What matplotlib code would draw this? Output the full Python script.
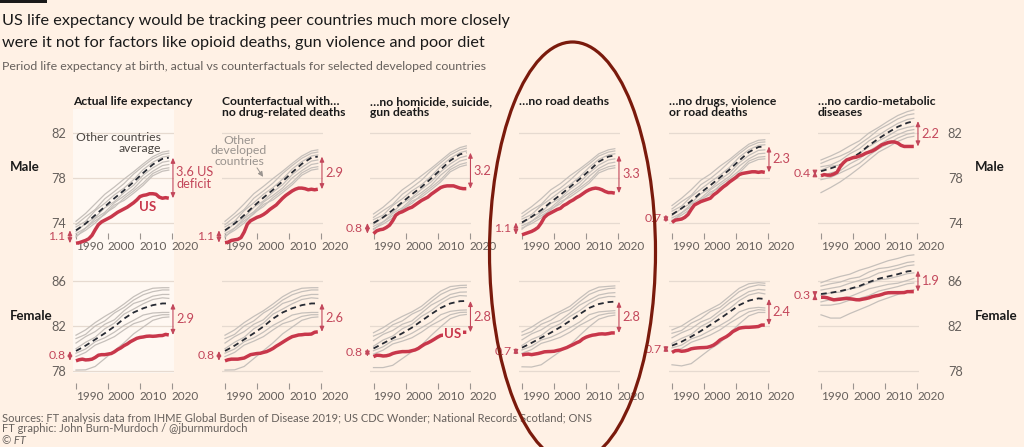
import matplotlib
matplotlib.use("Agg")
import matplotlib.pyplot as plt
from matplotlib.patches import Ellipse, Rectangle

plt.rcParams['font.family'] = ['Lato', 'DejaVu Sans']

# ---------------- data ----------------
years = list(range(1990, 2020))
avg_years = [1990, 1993, 1996, 1999, 2002, 2005, 2008, 2011, 2014, 2017, 2019]
tick_years = [1990, 2000, 2010, 2020]
tick_labels = ["1990", "2000", "2010", "2020"]

panel_titles = [
    "Actual life expectancy",
    "Counterfactual with…\nno drug-related deaths",
    "…no homicide, suicide,\ngun deaths",
    "…no road deaths",
    "…no drugs, violence\nor road deaths",
    "…no cardio-metabolic\ndiseases",
]

male_yticks = [74, 78, 82]
female_yticks = [78, 82, 86]

# US life expectancy, male (one list per panel)
us_male = [
    [72.2, 72.25, 72.35, 72.45, 72.6, 72.9, 73.4, 73.85, 74.1, 74.25, 74.4, 74.55, 74.75, 74.95, 75.1,
     75.25, 75.4, 75.6, 75.8, 76.05, 76.35, 76.45, 76.5, 76.6, 76.6, 76.55, 76.3, 76.2, 76.25, 76.2],
    [72.25, 72.3, 72.45, 72.5, 72.55, 72.7, 73.2, 73.9, 74.2, 74.35, 74.5, 74.6, 74.75, 74.95, 75.2,
     75.4, 75.6, 75.9, 76.2, 76.45, 76.65, 76.85, 77.0, 77.1, 77.1, 77.05, 76.95, 77.0, 76.95, 77.0],
    [73.05, 73.3, 73.4, 73.45, 73.6, 73.8, 74.2, 74.7, 74.9, 75.0, 75.15, 75.3, 75.4, 75.6, 75.8,
     76.0, 76.15, 76.3, 76.55, 76.75, 76.95, 77.15, 77.25, 77.3, 77.3, 77.3, 77.2, 77.1, 77.05, 77.05],
    [72.95, 73.05, 73.15, 73.25, 73.4, 73.6, 74.0, 74.5, 74.75, 74.9, 75.05, 75.2, 75.3, 75.55, 75.7,
     75.9, 76.05, 76.25, 76.4, 76.6, 76.8, 76.95, 77.05, 77.1, 77.05, 76.95, 76.8, 76.7, 76.7, 76.65],
    [74.05, 74.25, 74.3, 74.35, 74.5, 74.75, 75.2, 75.6, 75.75, 75.9, 76.0, 76.1, 76.2, 76.5, 76.7,
     76.95, 77.2, 77.4, 77.65, 77.85, 78.05, 78.3, 78.4, 78.45, 78.5, 78.55, 78.55, 78.5, 78.55, 78.5],
    [78.2, 78.3, 78.25, 78.25, 78.35, 78.5, 79.0, 79.35, 79.6, 79.7, 79.8, 79.85, 79.95, 80.05, 80.2,
     80.3, 80.4, 80.55, 80.75, 80.95, 81.05, 81.15, 81.2, 81.2, 81.1, 80.9, 80.8, 80.8, 80.8, 80.8],
]

# US life expectancy, female
us_female = [
    [78.9, 79.0, 79.05, 78.98, 79.0, 79.05, 79.2, 79.4, 79.45, 79.45, 79.5, 79.55, 79.7, 79.9, 80.05,
     80.25, 80.4, 80.6, 80.75, 80.9, 80.98, 81.02, 81.08, 81.1, 81.08, 81.1, 81.14, 81.15, 81.25, 81.2],
    [78.9, 79.0, 79.05, 79.05, 79.05, 79.1, 79.15, 79.3, 79.45, 79.5, 79.55, 79.57, 79.65, 79.72, 79.85,
     80.0, 80.2, 80.37, 80.55, 80.73, 80.9, 81.05, 81.12, 81.2, 81.22, 81.26, 81.26, 81.28, 81.44, 81.48],
    [79.27, 79.4, 79.38, 79.33, 79.35, 79.42, 79.55, 79.63, 79.68, 79.72, 79.72, 79.73, 79.8, 79.87, 80.0,
     80.2, 80.38, 80.5, 80.65, 80.82, 81.0, 81.15, 81.2, 81.25, 81.3, 81.33, 81.36, 81.42, 81.44, 81.44],
    [79.42, 79.48, 79.5, 79.45, 79.5, 79.55, 79.62, 79.7, 79.72, 79.73, 79.75, 79.82, 79.88, 79.98, 80.08,
     80.22, 80.35, 80.5, 80.62, 80.85, 81.0, 81.1, 81.18, 81.22, 81.28, 81.3, 81.28, 81.32, 81.38, 81.38],
    [79.65, 79.8, 79.82, 79.75, 79.78, 79.85, 79.97, 80.02, 80.05, 80.07, 80.08, 80.1, 80.18, 80.3, 80.5,
     80.75, 80.9, 81.05, 81.25, 81.5, 81.65, 81.8, 81.85, 81.88, 81.88, 81.9, 81.92, 81.95, 82.08, 82.08],
    [84.55, 84.55, 84.5, 84.4, 84.32, 84.35, 84.38, 84.42, 84.45, 84.42, 84.38, 84.33, 84.32, 84.38, 84.43,
     84.5, 84.6, 84.67, 84.72, 84.8, 84.9, 84.95, 84.96, 84.96, 84.96, 84.96, 84.97, 85.05, 85.05, 85.05],
]

# Other countries average (dashed), at avg_years
avg_male = [
    [73.35, 73.95, 74.7, 75.45, 76.2, 76.9, 77.65, 78.45, 79.2, 79.7, 79.8],
    [73.35, 73.95, 74.7, 75.5, 76.25, 76.95, 77.7, 78.5, 79.25, 79.8, 79.9],
    [74.0, 74.5, 75.15, 75.85, 76.55, 77.2, 77.95, 78.75, 79.55, 80.1, 80.25],
    [74.05, 74.55, 75.15, 75.85, 76.5, 77.2, 77.9, 78.65, 79.45, 79.9, 80.0],
    [74.75, 75.3, 75.95, 76.7, 77.35, 78.05, 78.75, 79.55, 80.3, 80.75, 80.8],
    [78.6, 78.85, 79.15, 79.65, 80.2, 80.9, 81.5, 82.05, 82.55, 82.9, 83.05],
]
avg_female = [
    [79.78, 80.25, 80.8, 81.35, 81.95, 82.65, 83.2, 83.57, 83.85, 84.0, 84.0],
    [79.78, 80.25, 80.8, 81.35, 81.95, 82.65, 83.2, 83.57, 83.85, 84.0, 84.0],
    [80.0, 80.45, 80.9, 81.35, 81.85, 82.45, 83.05, 83.6, 84.0, 84.2, 84.22],
    [80.07, 80.5, 80.95, 81.4, 81.9, 82.45, 83.05, 83.6, 83.95, 84.12, 84.16],
    [80.25, 80.6, 81.05, 81.55, 82.1, 82.65, 83.25, 83.85, 84.25, 84.45, 84.4],
    [84.84, 84.95, 85.1, 85.3, 85.55, 85.9, 86.2, 86.4, 86.6, 86.85, 86.92],
]

# Individual peer countries, read as distance from the average line (at avg_years)
peers_male = [
    [0.8, 0.9, 1.0, 1.1, 1.0, 1.0, 0.9, 0.8, 0.7, 0.6, 0.6],
    [0.5, 0.6, 0.5, 0.7, 0.6, 0.6, 0.7, 0.6, 0.5, 0.4, 0.4],
    [0.3, 0.2, 0.4, 0.3, 0.3, 0.2, 0.2, 0.3, 0.2, 0.15, 0.15],
    [-0.1, 0.0, -0.2, -0.1, -0.3, -0.2, -0.3, -0.2, -0.3, -0.3, -0.3],
    [-0.3, -0.4, -0.3, -0.5, -0.4, -0.5, -0.6, -0.5, -0.6, -0.6, -0.6],
    [-0.5, -0.6, -0.7, -0.6, -0.8, -0.7, -0.8, -0.9, -0.8, -0.9, -0.9],
    [-0.6, -0.4, -0.5, -0.7, -0.6, -0.9, -1.0, -1.1, -1.0, -1.1, -1.1],
]
peers_female = [
    [1.4, 1.4, 1.5, 1.5, 1.4, 1.3, 1.4, 1.5, 1.5, 1.4, 1.4],
    [1.1, 1.0, 1.2, 1.1, 1.2, 1.0, 1.1, 1.2, 1.2, 1.2, 1.2],
    [0.7, 0.8, 0.7, 0.8, 0.6, 0.7, 0.8, 0.7, 0.8, 0.8, 0.8],
    [0.2, 0.3, 0.2, 0.4, 0.3, 0.4, 0.3, 0.4, 0.5, 0.5, 0.45],
    [-0.2, -0.3, -0.2, -0.4, -0.5, -0.6, -0.7, -0.6, -0.7, -0.8, -0.8],
    [-0.5, -0.6, -0.5, -0.7, -0.9, -1.0, -1.0, -1.1, -1.0, -1.0, -1.0],
    [-1.7, -2.15, -2.4, -2.25, -2.15, -2.15, -1.9, -1.67, -1.35, -1.25, -1.2],
]
peers_male_cardio = [
    [1.0, 1.1, 1.2, 1.2, 1.1, 1.1, 1.0, 1.0, 1.0, 1.0, 1.0],
    [0.7, 0.8, 0.8, 0.7, 0.8, 0.7, 0.8, 0.7, 0.7, 0.7, 0.65],
    [0.4, 0.3, 0.4, 0.5, 0.4, 0.4, 0.3, 0.3, 0.3, 0.3, 0.25],
    [0.1, 0.2, 0.0, 0.1, 0.0, -0.1, -0.2, -0.3, -0.3, -0.4, -0.45],
    [-0.45, -0.4, -0.5, -0.4, -0.5, -0.5, -0.6, -0.6, -0.7, -0.7, -0.75],
    [-0.75, -0.8, -0.7, -0.8, -0.9, -0.9, -0.9, -1.0, -1.0, -1.0, -1.05],
    [-1.9, -1.7, -1.5, -1.4, -1.3, -1.3, -1.2, -1.3, -1.3, -1.3, -1.35],
]
peers_female_cardio = [
    [1.0, 1.2, 1.3, 1.3, 1.4, 1.3, 1.3, 1.4, 1.4, 1.4, 1.4],
    [0.7, 0.8, 0.8, 0.9, 0.8, 0.9, 0.9, 0.8, 0.8, 0.8, 0.8],
    [0.35, 0.4, 0.4, 0.5, 0.5, 0.4, 0.5, 0.5, 0.5, 0.5, 0.5],
    [-0.1, 0.0, -0.1, 0.0, -0.1, -0.1, -0.1, -0.2, -0.2, -0.2, -0.2],
    [-0.7, -0.6, -0.6, -0.7, -0.6, -0.6, -0.7, -0.7, -0.8, -0.8, -0.7],
    [-1.0, -1.1, -1.1, -1.0, -1.1, -1.2, -1.1, -1.1, -1.1, -1.1, -1.1],
    [-1.85, -2.25, -2.4, -2.2, -2.1, -2.1, -2.0, -1.9, -1.8, -1.75, -1.7],
]

gap_start_male = ["1.1", "1.1", "0.8", "1.1", "0.7", "0.4"]
gap_end_male = ["3.6 US\ndeficit", "2.9", "3.2", "3.3", "2.3", "2.2"]
gap_start_female = ["0.8", "0.8", "0.8", "0.7", "0.7", "0.3"]
gap_end_female = ["2.9", "2.6", "2.8", "2.8", "2.4", "1.9"]

# ---------------- style ----------------
BG = "#FFF1E5"
HL = "#FFF8F2"
GRID = "#E6DAD0"
GREY = "#C6C0BB"
RED = "#C8374B"
ARROW = "#C3475B"
DARK = "#262A33"
TICKC = "#66605C"

W, H = 1024, 447
fig = plt.figure(figsize=(W / 100, H / 100), dpi=100)
fig.patch.set_facecolor(BG)


def fx(px):
    return px / W


def fy(py):
    return 1 - py / H


# highlight behind the "actual" column
fig.add_artist(Rectangle((fx(73), fy(373)), fx(100.5), (373 - 109) / H,
                         transform=fig.transFigure, facecolor=HL, edgecolor="none", zorder=-5))

x1990 = [76, 225, 373.5, 522, 672, 821]
PX_PER_YEAR = 3.2
XLIM = (1989, 2020.5)

rows = [
    dict(name="Male", us=us_male, avg=avg_male, peers=peers_male, peers6=peers_male_cardio,
         yt=male_yticks, ylim=(73.11, 84.04), tick_py=233, top_py=110,
         gs=gap_start_male, ge=gap_end_male, label_py=167),
    dict(name="Female", us=us_female, avg=avg_female, peers=peers_female, peers6=peers_female_cardio,
         yt=female_yticks, ylim=(76.93, 88.04), tick_py=383, top_py=258,
         gs=gap_start_female, ge=gap_end_female, label_py=316),
]

for r, row in enumerate(rows):
    for i in range(6):
        left = x1990[i] - PX_PER_YEAR * (1990 - XLIM[0])
        width = PX_PER_YEAR * (XLIM[1] - XLIM[0])
        ax = fig.add_axes([fx(left), fy(row["tick_py"]), fx(width),
                           (row["tick_py"] - row["top_py"]) / H])
        ax.set_facecolor("none")
        ax.set_xlim(*XLIM)
        ax.set_ylim(*row["ylim"])
        for s in ax.spines.values():
            s.set_visible(False)
        ax.set_yticks(row["yt"])
        ax.yaxis.grid(True, color=GRID, lw=0.9)
        ax.set_axisbelow(True)
        ax.set_xticks(tick_years)
        ax.set_xticklabels(tick_labels)
        ax.tick_params(axis="x", length=4, width=0.8, color="#9b948f", pad=1.5,
                       labelsize=8.5, labelcolor=TICKC)
        for lab in ax.get_xticklabels():
            lab.set_horizontalalignment("left")
        if i == 0:
            ax.tick_params(axis="y", length=0, pad=5, labelsize=9.2, labelcolor=TICKC)
        elif i == 5:
            ax.yaxis.tick_right()
            ax.tick_params(axis="y", length=0, pad=21, labelsize=9.2, labelcolor=TICKC)
        else:
            ax.tick_params(axis="y", length=0, labelleft=False)

        avg = row["avg"][i]
        peers = row["peers6"] if i == 5 else row["peers"]
        for dev in peers:
            ax.plot(avg_years, [a + d for a, d in zip(avg, dev)], color=GREY, lw=0.9,
                    clip_on=False, zorder=2)
        ax.plot(avg_years, avg, color=DARK, lw=1.3, dashes=(3.2, 2.2), clip_on=False, zorder=3)
        us = row["us"][i]
        ax.plot(years, us, color=RED, lw=2.5, clip_on=False, zorder=4,
                solid_capstyle="butt", solid_joinstyle="round")

        # gap arrows
        aprops = dict(arrowstyle="<|-|>,head_length=0.3,head_width=0.13", color=ARROW,
                      lw=0.8, shrinkA=0, shrinkB=0)
        ax.annotate("", xy=(1988.1, us[0]), xytext=(1988.1, avg[0]), arrowprops=aprops,
                    annotation_clip=False)
        ax.text(1986.7, (us[0] + avg[0]) / 2, row["gs"][i], color=ARROW, fontsize=8.8,
                ha="right", va="center")
        ax.annotate("", xy=(2020.3, us[-1]), xytext=(2020.3, avg[-1]), arrowprops=aprops,
                    annotation_clip=False)
        ax.text(2021.3, (us[-1] + avg[-1]) / 2, row["ge"][i], color=ARROW, fontsize=9.2,
                ha="left", va="center", linespacing=1.05)

        if r == 0 and i == 0:
            ax.text(2016.6, 81.07, "Other countries\naverage", color="#4a4541", fontsize=8.8,
                    ha="right", va="center", linespacing=1.0)
            ax.text(2012.5, 75.4, "US", color=RED, fontsize=9.5, fontweight="bold",
                    ha="center", va="center")
        if r == 0 and i == 1:
            ax.text(1994.4, 80.4, "Other\ndeveloped\ncountries", color="#9a948f", fontsize=8.8,
                    ha="center", va="center", linespacing=0.95)
            ax.annotate("", xy=(2001.9, 78.1), xytext=(2000.0, 78.9),
                        arrowprops=dict(arrowstyle="-|>,head_length=0.3,head_width=0.15",
                                        color="#9a948f", lw=0.7, shrinkA=0, shrinkB=0))
        if r == 1 and i == 2:
            ax.text(2014.8, 81.3, "US", color=RED, fontsize=9.5, fontweight="bold",
                    ha="center", va="center", zorder=6,
                    bbox=dict(boxstyle="square,pad=0.1", facecolor=BG, edgecolor="none"))

        if r == 0:
            fig.text(fx(left), fy(96), panel_titles[i], fontsize=8.7, fontweight="bold",
                     color="#1a1a1a", ha="left", va="top", linespacing=1.0)

    fig.text(fx(10), fy(row["label_py"]), row["name"], fontsize=9.5, fontweight="bold",
             color="#1a1a1a", ha="left", va="center")
    fig.text(fx(975), fy(row["label_py"]), row["name"], fontsize=9.5, fontweight="bold",
             color="#1a1a1a", ha="left", va="center")

# headline
fig.add_artist(Rectangle((0, fy(3)), fx(47), 3 / H, transform=fig.transFigure,
                         facecolor="#1a1a1a", edgecolor="none"))
fig.text(fx(2), fy(21.5), "US life expectancy would be tracking peer countries much more closely",
         fontsize=11.7, color="#1a1a1a", ha="left", va="center")
fig.text(fx(2), fy(43), "were it not for factors like opioid deaths, gun violence and poor diet",
         fontsize=11.7, color="#1a1a1a", ha="left", va="center")
fig.text(fx(2), fy(66), "Period life expectancy at birth, actual vs counterfactuals for selected developed countries",
         fontsize=8.9, color=TICKC, ha="left", va="center")

# footer
fig.text(fx(2), fy(418), "Sources: FT analysis data from IHME Global Burden of Disease 2019; US CDC Wonder; National Records Scotland; ONS",
         fontsize=8.0, color=TICKC, ha="left", va="center")
fig.text(fx(2), fy(429), "FT graphic: John Burn-Murdoch / @jburnmurdoch",
         fontsize=8.0, color=TICKC, ha="left", va="center")
fig.text(fx(2), fy(440), "© FT", fontsize=8.0, color=TICKC, ha="left", va="center", style="italic")

# red ellipse highlighting the road-deaths panel
fig.add_artist(Ellipse((fx(572.5), fy(252)), fx(166), 420 / H, transform=fig.transFigure,
                       facecolor="none", edgecolor="#7A1A0C", lw=2.3, zorder=10))

fig.savefig("out.png", dpi=100, facecolor=BG)
